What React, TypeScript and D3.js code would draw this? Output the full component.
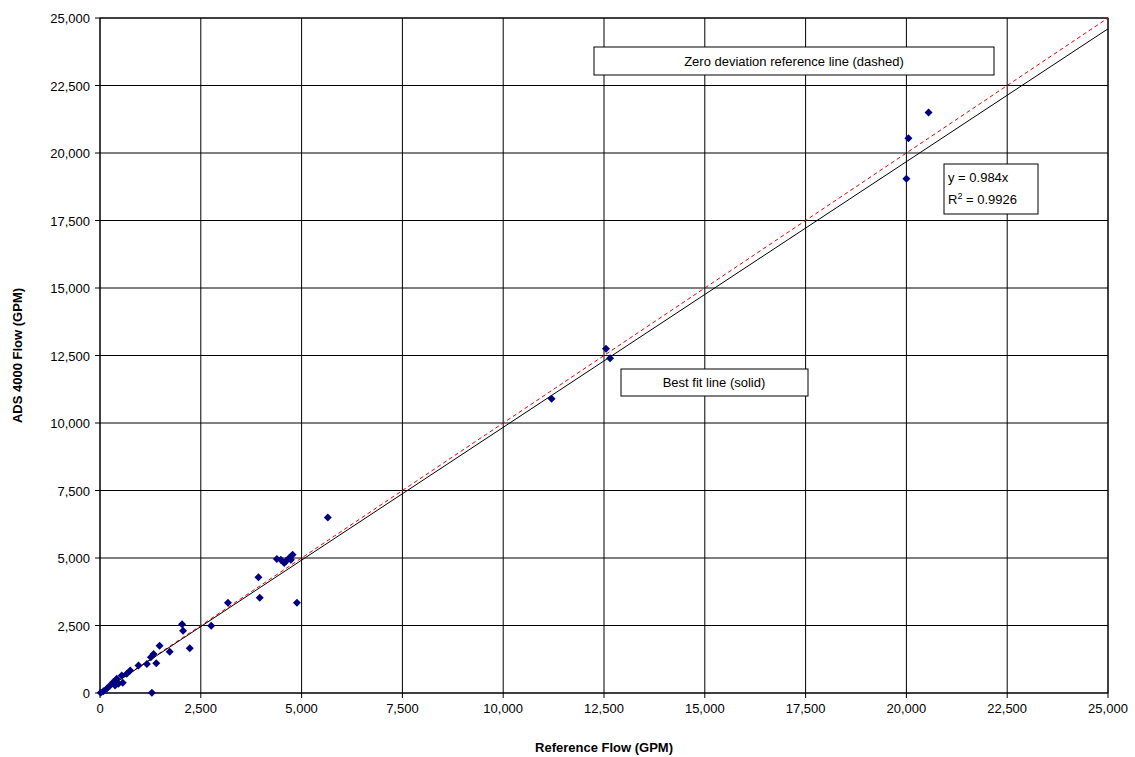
import React from "react";
import * as d3 from "d3";

const refFlow = [4385,4485,4610,4693,4776,4568,4734,3929,3962,4884,3173,2035,2060,2757,2226,1478,1728,1329,1262,1395,1163,955,748,664,540,565,415,332,249,166,83,17,1287,457,374,5650,11200,12550,12650,20050,20000,20550];
const adsFlow = [4963,4939,4877,5000,5122,4816,4939,4289,3529,3346,3346,2549,2304,2488,1654,1752,1532,1446,1323,1103,1078,1017,833,711,650,380,527,404,282,159,61,12,12,343,282,6500,10900,12750,12400,20550,19050,21500];
const ticks = [0,2500,5000,7500,10000,12500,15000,17500,20000,22500,25000];
const slope = 0.984;

export default function App() {
  const L = 100, R = 1108, T = 18, B = 693;
  const x = d3.scaleLinear().domain([0, 25000]).range([L, R]);
  const y = d3.scaleLinear().domain([0, 25000]).range([B, T]);
  const fmt = d3.format(",");
  const font = "Arial, 'Liberation Sans', sans-serif";
  return (
    <svg width={1135} height={757} style={{ position: "absolute", left: 0, top: 0, fontFamily: font }}>
      <rect width={1135} height={757} fill="#fff" />
      {ticks.map(t => (
        <g key={t}>
          <line x1={x(t)} x2={x(t)} y1={T} y2={B + 5} stroke="#000" strokeWidth={1} />
          <line x1={L - 5} x2={R} y1={y(t)} y2={y(t)} stroke="#000" strokeWidth={1} />
          <text x={x(t)} y={B + 20} fontSize={13} textAnchor="middle">{fmt(t)}</text>
          <text x={L - 10} y={y(t) + 5} fontSize={13} textAnchor="end">{fmt(t)}</text>
        </g>
      ))}
      <rect x={L} y={T} width={R - L} height={B - T} fill="none" stroke="#000" />
      <line x1={x(0)} y1={y(0)} x2={x(25000)} y2={y(25000)} stroke="#e00" strokeDasharray="4,3" />
      <line x1={x(0)} y1={y(0)} x2={x(25000)} y2={y(25000 * slope)} stroke="#000" />
      {refFlow.map((v, i) => {
        const cx = x(v), cy = y(adsFlow[i]);
        return <path key={i} d={`M${cx},${cy - 4}L${cx + 4},${cy}L${cx},${cy + 4}L${cx - 4},${cy}Z`} fill="#000080" />;
      })}
      <rect x={594} y={47} width={400} height={28} fill="#fff" stroke="#000" />
      <text x={794} y={66} fontSize={13} textAnchor="middle">Zero deviation reference line (dashed)</text>
      <rect x={621} y={369} width={187} height={27} fill="#fff" stroke="#000" />
      <text x={714} y={387} fontSize={13} textAnchor="middle">Best fit line (solid)</text>
      <rect x={944} y={164} width={94} height={50} fill="#fff" stroke="#000" />
      <text x={948} y={182} fontSize={13}>y = 0.984x</text>
      <text x={948} y={204} fontSize={13}>R<tspan fontSize={9} dy={-5}>2</tspan><tspan dy={5}> = 0.9926</tspan></text>
      <text x={(L + R) / 2} y={752} fontSize={13} fontWeight="bold" textAnchor="middle">Reference Flow (GPM)</text>
      <text transform={`translate(22,${(T + B) / 2}) rotate(-90)`} fontSize={13} fontWeight="bold" textAnchor="middle">ADS 4000 Flow (GPM)</text>
    </svg>
  );
}
